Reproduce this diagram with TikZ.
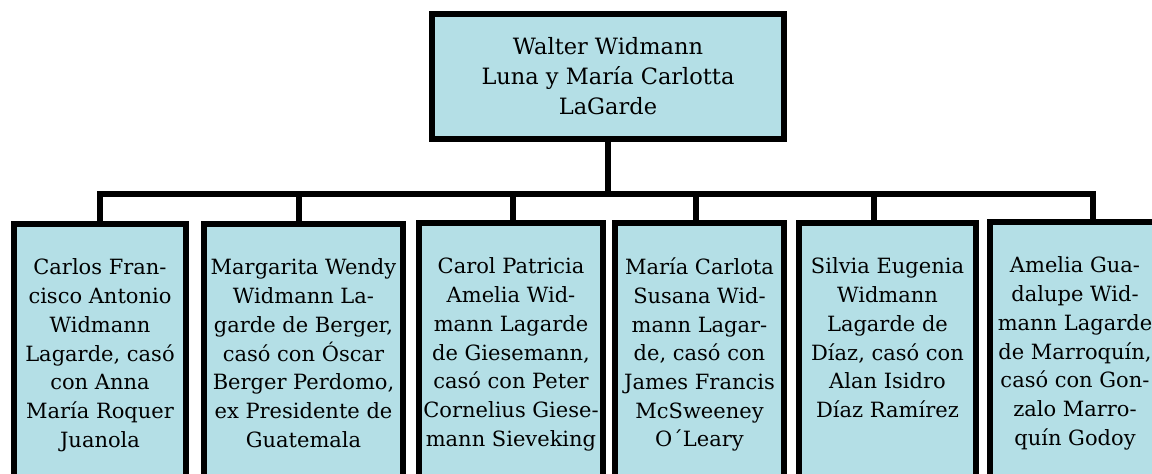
\documentclass[tikz,border=0pt]{standalone}
\usepackage{fontspec}
\setmainfont{DejaVu Serif}
\definecolor{boxblue}{HTML}{B4DFE6}
\newcommand{\kidtext}[2]{\parbox[t][230pt][t]{#1}{\centering #2}}

\begin{document}
\begin{tikzpicture}[x=1pt, y=-1pt,
    every node/.style={draw, line width=6pt, fill=boxblue, inner xsep=0pt,
      font=\fontsize{21}{28.7}\selectfont},
    parent/.style={minimum width=352pt, minimum height=125pt, align=center,
      font=\fontsize{22.5}{30}\selectfont},
    child/.style={anchor=north, inner ysep=35pt},
    link/.style={line width=5.5pt}
]
\useasboundingbox (0,0) rectangle (1152,474);
\clip (0,0) rectangle (1152,474);

% parents
\node[parent] (p) at (608,76.5) {Walter Widmann\\Luna y María Carlotta\\LaGarde};

% children
\node[child] (k1) at (100,221) {\kidtext{172pt}{Carlos Fran-\\cisco Antonio\\Widmann\\Lagarde, casó\\con Anna\\María Roquer\\Juanola}};
\node[child] (k2) at (303.5,221) {\kidtext{199pt}{Margarita Wendy\\Widmann La-\\garde de Berger,\\casó con Óscar\\Berger Perdomo,\\ex Presidente de\\Guatemala}};
\node[child] (k3) at (511,220) {\kidtext{184pt}{Carol Patricia\\Amelia Wid-\\mann Lagarde\\de Giesemann,\\casó con Peter\\Cornelius Giese-\\mann Sieveking}};
\node[child] (k4) at (699.5,220) {\kidtext{169pt}{María Carlota\\Susana Wid-\\mann Lagar-\\de, casó con\\James Francis\\McSweeney\\O´Leary}};
\node[child] (k5) at (887.5,220) {\kidtext{177pt}{Silvia Eugenia\\Widmann\\Lagarde de\\Díaz, casó con\\Alan Isidro\\Díaz Ramírez}};
\node[child] (k6) at (1075,219) {\kidtext{170pt}{Amelia Gua-\\dalupe Wid-\\mann Lagarde\\de Marroquín,\\casó con Gon-\\zalo Marro-\\quín Godoy}};

% links
\path (p.south) ++(0,52) coordinate (bar);
\foreach \k/\dx in {1/0,2/-4.5,3/2,4/-3.5,5/-13.5,6/18}
  \coordinate (s\k) at ([xshift=\dx pt]k\k.north);
\draw[link] (p.south) -- (bar);
\draw[link] (s1) -- (s1 |- bar) -- (s6 |- bar) -- (s6);
\foreach \k in {2,...,5}
  \draw[link] (s\k) -- (s\k |- bar);

\end{tikzpicture}
\end{document}
